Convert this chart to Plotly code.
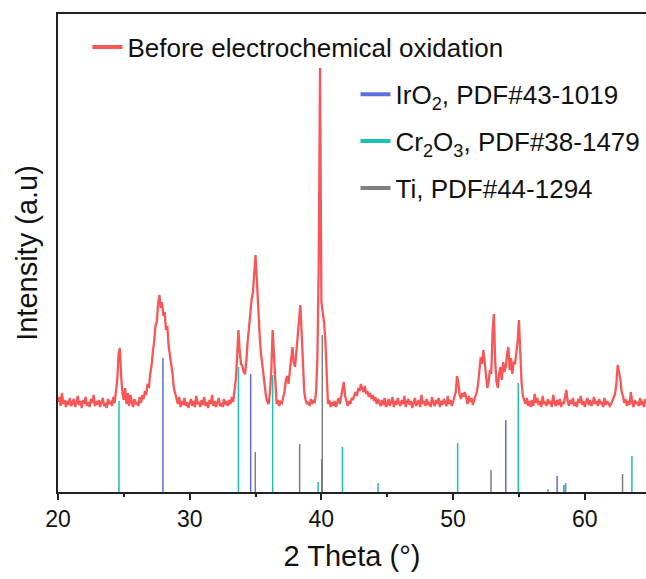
import plotly.graph_objects as go

# ---------------- data ----------------
two_theta_start = 20.0
two_theta_step = 0.1
# measured XRD intensity (arbitrary units), one value per 0.1 deg from 20.0 deg
xrd_intensity = [
    90, 95, 86, 99, 88, 92, 85, 91, 87, 94,        # 20
    86, 90, 93, 85, 89, 96, 87, 91, 84, 92,        # 21
    88, 95, 86, 90, 85, 93, 89, 97, 86, 91,        # 22
    87, 92, 85, 90, 94, 86, 89, 84, 93, 88,        # 23
    91, 86, 95, 89, 100, 112, 138, 144, 115, 98,   # 24
    92, 104, 88, 99, 86, 97, 90, 85, 93, 88,       # 25
    90, 86, 95, 89, 97, 93, 101, 97, 108, 104,     # 26
    118, 126, 140, 150, 166, 170, 188, 197, 184, 190,  # 27
    176, 180, 162, 166, 146, 138, 126, 118, 104, 99,   # 28
    92, 88, 95, 85, 91, 87, 94, 86, 90, 84,        # 29
    89, 93, 86, 91, 85, 96, 88, 90, 85, 92,        # 30
    87, 95, 86, 90, 84, 92, 88, 97, 86, 91,        # 31
    85, 90, 94, 86, 89, 85, 93, 87, 91, 86,        # 32
    92, 88, 95, 90, 100, 112, 135, 162, 140, 128,  # 33
    126, 120, 118, 130, 150, 165, 178, 192, 200, 215,  # 34
    237, 212, 180, 160, 140, 128, 116, 104, 95, 90,    # 35
    88, 100, 122, 162, 128, 112, 88, 92, 86, 90,   # 36
    89, 95, 100, 112, 116, 108, 122, 135, 145, 130,    # 37
    125, 140, 155, 170, 187, 160, 125, 100, 92, 88,    # 38
    90, 86, 93, 88, 91, 90, 100, 135, 230, 424,    # 39
    190, 180, 170, 152, 110, 88, 92, 85, 90, 86,   # 40
    91, 85, 89, 94, 88, 97, 106, 110, 96, 89,      # 41
    86, 91, 88, 94, 92, 97, 100, 96, 104, 101,     # 42
    108, 103, 100, 106, 98, 101, 95, 99, 93, 97,   # 43
    91, 95, 88, 93, 90, 86, 92, 87, 94, 85,        # 44
    88, 93, 86, 90, 95, 85, 91, 87, 94, 89,        # 45
    86, 92, 88, 96, 85, 90, 93, 87, 91, 84,        # 46
    90, 94, 86, 89, 92, 85, 97, 88, 91, 86,        # 47
    93, 87, 90, 85, 95, 89, 86, 92, 88, 94,        # 48
    85, 91, 87, 93, 89, 86, 96, 88, 92, 86,        # 49
    90, 96, 100, 116, 109, 97, 93, 99, 95, 100,    # 50
    92, 88, 96, 90, 94, 87, 92, 96, 100, 108,      # 51
    125, 135, 128, 142, 130, 115, 104, 110, 122, 118,  # 52
    160, 178, 130, 110, 104, 118, 125, 112, 130, 120,  # 53
    125, 138, 145, 122, 134, 118, 130, 128, 140, 150,  # 54
    172, 138, 110, 96, 92, 88, 94, 86, 91, 85,     # 55
    92, 86, 98, 89, 94, 87, 91, 85, 96, 88,        # 56
    90, 86, 93, 88, 91, 85, 97, 89, 86, 92,        # 57
    87, 93, 85, 90, 88, 95, 102, 91, 86, 92,       # 58
    88, 94, 86, 90, 85, 93, 89, 96, 87, 91,        # 59
    85, 90, 94, 87, 92, 86, 89, 95, 88, 91,        # 60
    86, 93, 88, 90, 85, 94, 87, 91, 89, 86,        # 61
    88, 92, 94, 98, 108, 127, 120, 113, 100, 96,   # 62
    89, 93, 86, 91, 87, 100, 90, 85, 92, 88,       # 63
    90, 86, 94, 87, 91, 85, 93,                    # 64
]

# reference patterns: 2theta positions and relative stick heights (same units)
iro2_pos = [27.97, 34.63, 40.03, 54.00, 57.90, 58.42]
iro2_int = [134, 118, 33, 72, 16, 7]

cr2o3_pos = [24.63, 33.70, 36.30, 39.75, 41.60, 44.30, 50.35, 54.95, 57.20, 58.55, 63.58]
cr2o3_int = [91, 125, 117, 10, 45, 9, 49, 109, 3, 9, 36]

ti_pos = [34.98, 38.35, 40.07, 52.88, 62.87]
ti_int = [40, 48, 157, 22, 18]

sample_name = "Before electrochemical oxidation"
ref_names = ["IrO<sub>2</sub>, PDF#43-1019",
             "Cr<sub>2</sub>O<sub>3</sub>, PDF#38-1479",
             "Ti, PDF#44-1294"]

x_ticks = [20, 30, 40, 50, 60]

# ---------------- styles ----------------
RED = "#F95757"
BLUE = "#5B6EE3"
CYAN = "#1DBFB6"
GRAY = "#7F7F7F"
FONT = "Arial, Liberation Sans, sans-serif"

two_theta = [round(two_theta_start + i * two_theta_step, 2) for i in range(len(xrd_intensity))]


def sticks(pos, inten):
    xs, ys = [], []
    for p, h in zip(pos, inten):
        xs += [p, p, None]
        ys += [0, h, None]
    return xs, ys


fig = go.Figure()

fig.add_trace(go.Scatter(x=two_theta, y=xrd_intensity, mode="lines",
                         line=dict(color=RED, width=2.3),
                         name=sample_name, showlegend=False))

for (pos, inten), col, nm in zip([(iro2_pos, iro2_int), (cr2o3_pos, cr2o3_int), (ti_pos, ti_int)],
                                 [BLUE, CYAN, GRAY], ref_names):
    xs, ys = sticks(pos, inten)
    fig.add_trace(go.Scatter(x=xs, y=ys, mode="lines", line=dict(color=col, width=1.5),
                             name=nm, showlegend=False))

# legend entries (thick samples)
fig.add_trace(go.Scatter(x=[None], y=[None], mode="lines", line=dict(color=RED, width=4),
                         name=sample_name, legend="legend"))
for i, (col, nm) in enumerate(zip([BLUE, CYAN, GRAY], ref_names)):
    fig.add_trace(go.Scatter(x=[None], y=[None], mode="lines", line=dict(color=col, width=4),
                             name=nm, legend="legend2", legendgroup="g%d" % i))

fig.update_layout(
    width=646, height=579,
    margin=dict(l=58, r=0, t=14, b=87),
    paper_bgcolor="white", plot_bgcolor="white",
    font=dict(family=FONT, color="#111"),
    legend=dict(x=0.05, y=0.98, xanchor="left", yanchor="top",
                font=dict(size=26, family=FONT), bgcolor="rgba(0,0,0,0)"),
    legend2=dict(x=0.506, y=0.881, xanchor="left", yanchor="top",
                 font=dict(size=26, family=FONT), bgcolor="rgba(0,0,0,0)",
                 traceorder="grouped", tracegroupgap=10),
    xaxis=dict(range=[20, 64.65], tickvals=x_ticks, ticks="outside", ticklen=6, tickwidth=1.5,
               tickcolor="#222", tickfont=dict(size=23, family=FONT),
               minor=dict(dtick=5, ticks="outside", ticklen=3, tickwidth=1.5, tickcolor="#222"),
               showline=True, linecolor="#222", linewidth=1.5, mirror=True,
               showgrid=False, zeroline=False,
               title=dict(text="2 Theta (°)", font=dict(size=29, family=FONT), standoff=14)),
    yaxis=dict(range=[0, 478], showticklabels=False, ticks="", showline=True, linecolor="#222",
               linewidth=1.5, showgrid=False, zeroline=False,
               title=dict(text="Intensity (a.u)", font=dict(size=29, family=FONT), standoff=10)),
)

fig.write_html("out.html")
